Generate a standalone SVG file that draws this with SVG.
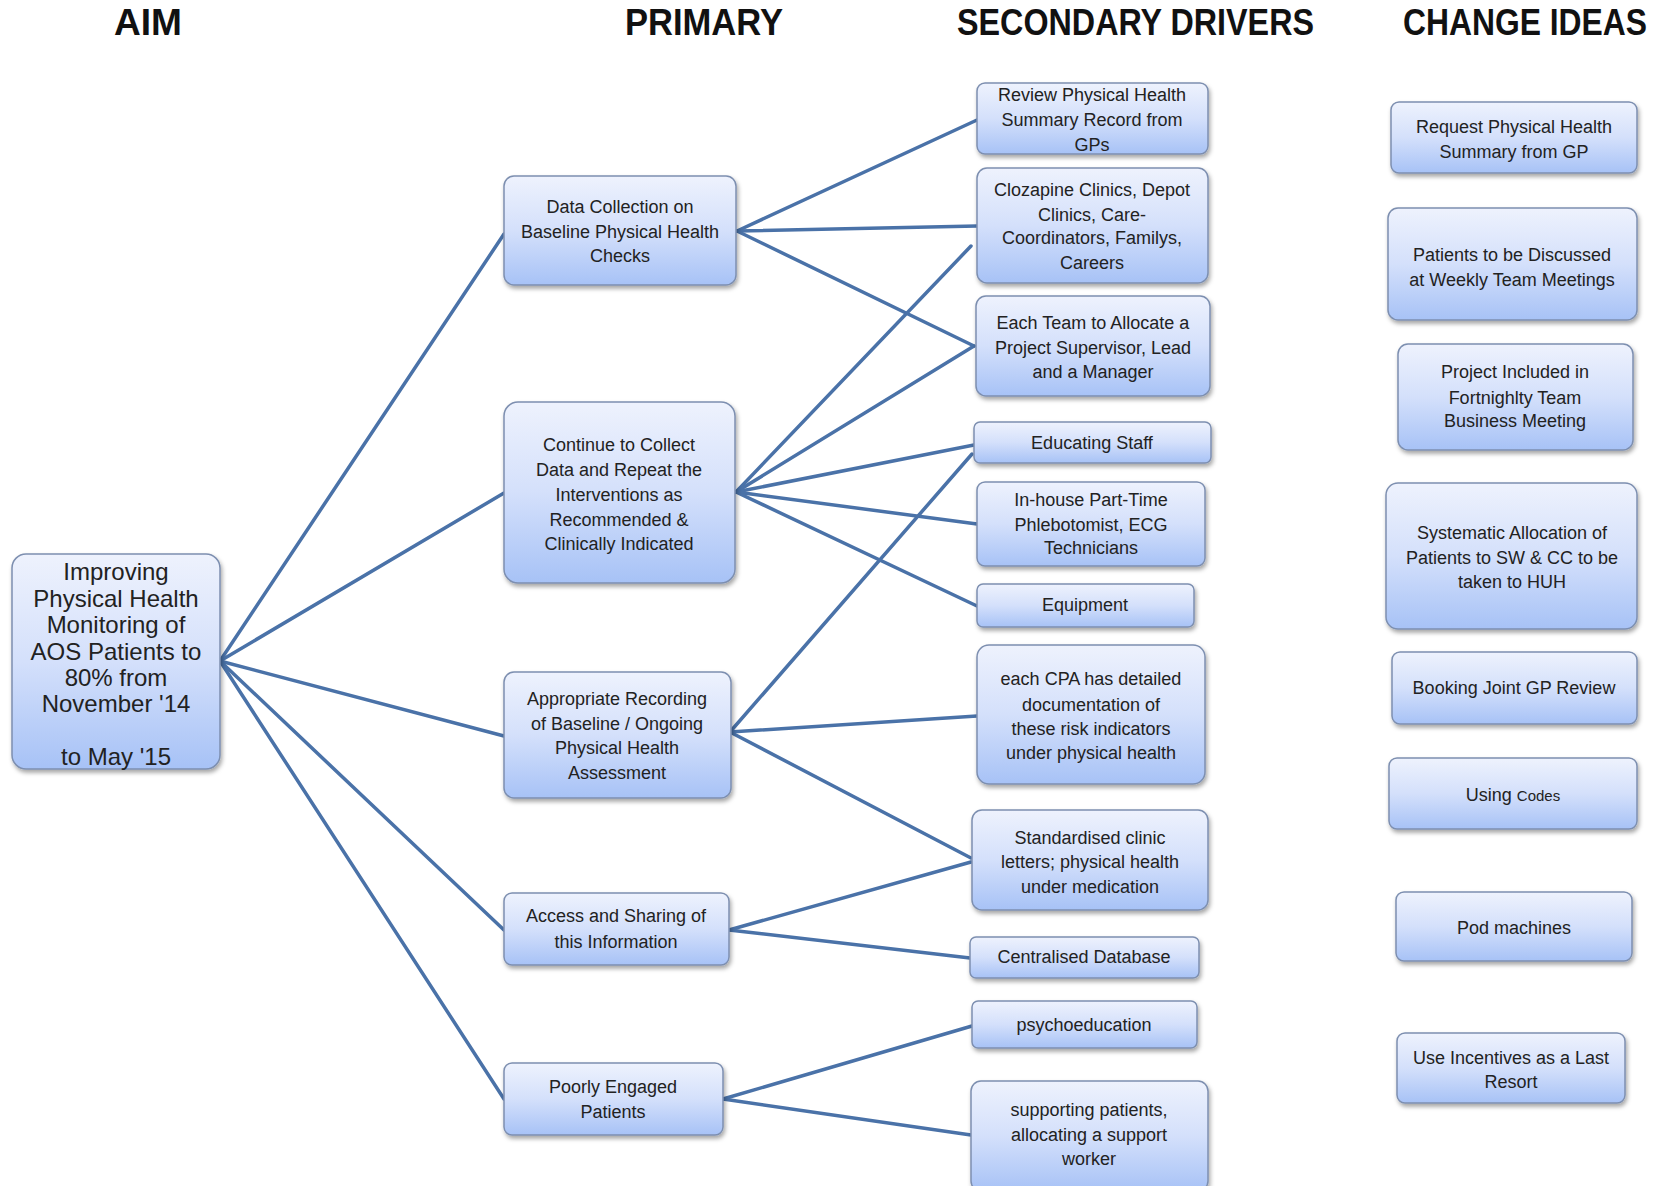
<svg xmlns="http://www.w3.org/2000/svg" width="1667" height="1186" viewBox="0 0 1667 1186">
<style>
.h{font-family:"Liberation Sans",Arial,sans-serif;font-weight:bold;font-size:36px;fill:#111}
.t{font-family:"Liberation Sans",Arial,sans-serif;font-size:18px;fill:#222;text-anchor:middle}
.a{font-family:"Liberation Sans",Arial,sans-serif;font-size:24px;fill:#222;text-anchor:middle}
.b{fill:url(#g);stroke:#7d8fb0;stroke-width:1.5;filter:url(#sh)}
.c{stroke:#4a72a8;stroke-width:3.5;fill:none;stroke-linecap:round}
</style>
<defs>
<linearGradient id="g" x1="0" y1="0" x2="0" y2="1">
<stop offset="0" stop-color="#eef2fd"/>
<stop offset="0.5" stop-color="#d4e0fb"/>
<stop offset="1" stop-color="#a7c2f6"/>
</linearGradient>
<filter id="sh" x="-10%" y="-10%" width="125%" height="130%">
<feDropShadow dx="1.5" dy="3" stdDeviation="2" flood-color="#000" flood-opacity="0.35"/>
</filter>
</defs>
<rect width="1667" height="1186" fill="#fff"/>
<g id="headers">
<text class="h" x="114" y="35" textLength="68" lengthAdjust="spacingAndGlyphs">AIM</text>
<text class="h" x="625" y="35" textLength="158" lengthAdjust="spacingAndGlyphs">PRIMARY</text>
<text class="h" x="957" y="35" textLength="357" lengthAdjust="spacingAndGlyphs">SECONDARY DRIVERS</text>
<text class="h" x="1403" y="35" textLength="244" lengthAdjust="spacingAndGlyphs">CHANGE IDEAS</text>
</g>
<g id="connectors">
<line class="c" x1="220" y1="661" x2="504" y2="234"/>
<line class="c" x1="220" y1="661" x2="504" y2="493"/>
<line class="c" x1="220" y1="661" x2="504" y2="736"/>
<line class="c" x1="220" y1="661" x2="504" y2="930"/>
<line class="c" x1="220" y1="661" x2="504" y2="1099"/>
<line class="c" x1="737" y1="231" x2="977" y2="120"/>
<line class="c" x1="737" y1="231" x2="977" y2="226"/>
<line class="c" x1="737" y1="231" x2="974" y2="346"/>
<line class="c" x1="736" y1="492" x2="971" y2="246"/>
<line class="c" x1="736" y1="492" x2="974" y2="346"/>
<line class="c" x1="736" y1="492" x2="974" y2="445"/>
<line class="c" x1="736" y1="492" x2="977" y2="524"/>
<line class="c" x1="736" y1="492" x2="977" y2="606"/>
<line class="c" x1="730" y1="732" x2="972" y2="454"/>
<line class="c" x1="730" y1="732" x2="977" y2="716"/>
<line class="c" x1="730" y1="732" x2="971" y2="858"/>
<line class="c" x1="729" y1="930" x2="971" y2="862"/>
<line class="c" x1="729" y1="930" x2="970" y2="958"/>
<line class="c" x1="723" y1="1099" x2="972" y2="1026"/>
<line class="c" x1="723" y1="1099" x2="971" y2="1135"/>
</g>
<g id="aim">
<rect class="b" x="12" y="554" width="208" height="215" rx="14"/>
<text class="a" x="116" y="580">Improving</text>
<text class="a" x="116" y="607">Physical Health</text>
<text class="a" x="116" y="633">Monitoring of</text>
<text class="a" x="116" y="660">AOS Patients to</text>
<text class="a" x="116" y="686">80% from</text>
<text class="a" x="116" y="712">November '14</text>
<text class="a" x="116" y="765">to May '15</text>
</g>
<g id="p1">
<rect class="b" x="504" y="176" width="232" height="109" rx="10"/>
<text class="t" x="620" y="213">Data Collection  on</text>
<text class="t" x="620" y="238">Baseline Physical  Health</text>
<text class="t" x="620" y="262">Checks</text>
</g>
<g id="p2">
<rect class="b" x="504" y="402" width="231" height="181" rx="14"/>
<text class="t" x="619" y="451">Continue to  Collect</text>
<text class="t" x="619" y="476">Data and  Repeat the</text>
<text class="t" x="619" y="501">Interventions as</text>
<text class="t" x="619" y="526">Recommended &amp;</text>
<text class="t" x="619" y="550">Clinically Indicated</text>
</g>
<g id="p3">
<rect class="b" x="504" y="672" width="227" height="126" rx="10"/>
<text class="t" x="617" y="705">Appropriate Recording</text>
<text class="t" x="617" y="730">of Baseline / Ongoing</text>
<text class="t" x="617" y="754">Physical Health</text>
<text class="t" x="617" y="779">Assessment</text>
</g>
<g id="p4">
<rect class="b" x="504" y="893" width="225" height="72" rx="8"/>
<text class="t" x="616" y="922">Access and Sharing of</text>
<text class="t" x="616" y="948">this Information</text>
</g>
<g id="p5">
<rect class="b" x="504" y="1063" width="219" height="72" rx="8"/>
<text class="t" x="613" y="1093">Poorly Engaged</text>
<text class="t" x="613" y="1118">Patients</text>
</g>
<g id="s1">
<rect class="b" x="977" y="83" width="231" height="71" rx="8"/>
<text class="t" x="1092" y="101">Review Physical Health</text>
<text class="t" x="1092" y="126">Summary  Record from</text>
<text class="t" x="1092" y="151">GPs</text>
</g>
<g id="s2">
<rect class="b" x="977" y="168" width="231" height="115" rx="10"/>
<text class="t" x="1092" y="196">Clozapine Clinics, Depot</text>
<text class="t" x="1092" y="221">Clinics, Care-</text>
<text class="t" x="1092" y="244">Coordinators, Familys,</text>
<text class="t" x="1092" y="269">Careers</text>
</g>
<g id="s3">
<rect class="b" x="976" y="296" width="234" height="100" rx="10"/>
<text class="t" x="1093" y="329">Each Team to Allocate a</text>
<text class="t" x="1093" y="354">Project Supervisor, Lead</text>
<text class="t" x="1093" y="378">and a Manager</text>
</g>
<g id="s4">
<rect class="b" x="974" y="422" width="237" height="41" rx="6"/>
<text class="t" x="1092" y="449">Educating Staff</text>
</g>
<g id="s5">
<rect class="b" x="977" y="482" width="228" height="84" rx="8"/>
<text class="t" x="1091" y="506">In-house Part-Time</text>
<text class="t" x="1091" y="531">Phlebotomist, ECG</text>
<text class="t" x="1091" y="554">Technicians</text>
</g>
<g id="s6">
<rect class="b" x="977" y="584" width="217" height="43" rx="6"/>
<text class="t" x="1085" y="611">Equipment</text>
</g>
<g id="s7">
<rect class="b" x="977" y="645" width="228" height="139" rx="12"/>
<text class="t" x="1091" y="685">each CPA has detailed</text>
<text class="t" x="1091" y="711">documentation of</text>
<text class="t" x="1091" y="735">these risk indicators</text>
<text class="t" x="1091" y="759">under physical health</text>
</g>
<g id="s8">
<rect class="b" x="972" y="810" width="236" height="100" rx="10"/>
<text class="t" x="1090" y="844">Standardised clinic</text>
<text class="t" x="1090" y="868">letters; physical health</text>
<text class="t" x="1090" y="893">under medication</text>
</g>
<g id="s9">
<rect class="b" x="970" y="937" width="229" height="41" rx="6"/>
<text class="t" x="1084" y="963">Centralised Database</text>
</g>
<g id="s10">
<rect class="b" x="972" y="1001" width="225" height="47" rx="6"/>
<text class="t" x="1084" y="1031">psychoeducation</text>
</g>
<g id="s11">
<rect class="b" x="971" y="1081" width="237" height="110" rx="10"/>
<text class="t" x="1089" y="1116">supporting patients,</text>
<text class="t" x="1089" y="1141">allocating a support</text>
<text class="t" x="1089" y="1165">worker</text>
</g>
<g id="c1">
<rect class="b" x="1391" y="102" width="246" height="71" rx="8"/>
<text class="t" x="1514" y="133">Request Physical  Health</text>
<text class="t" x="1514" y="158">Summary  from GP</text>
</g>
<g id="c2">
<rect class="b" x="1388" y="208" width="249" height="112" rx="10"/>
<text class="t" x="1512" y="261">Patients to  be Discussed</text>
<text class="t" x="1512" y="286">at Weekly Team  Meetings</text>
</g>
<g id="c3">
<rect class="b" x="1398" y="344" width="235" height="106" rx="10"/>
<text class="t" x="1515" y="378">Project Included in</text>
<text class="t" x="1515" y="404">Fortnighlty Team</text>
<text class="t" x="1515" y="427">Business Meeting</text>
</g>
<g id="c4">
<rect class="b" x="1386" y="483" width="251" height="146" rx="12"/>
<text class="t" x="1512" y="539">Systematic  Allocation of</text>
<text class="t" x="1512" y="564">Patients to  SW &amp; CC to be</text>
<text class="t" x="1512" y="588">taken to HUH</text>
</g>
<g id="c5">
<rect class="b" x="1392" y="652" width="245" height="72" rx="8"/>
<text class="t" x="1514" y="694">Booking Joint  GP Review</text>
</g>
<g id="c6">
<rect class="b" x="1389" y="758" width="248" height="71" rx="8"/>
<text class="t" x="1513" y="801">Using <tspan font-size="15">Codes</tspan></text>
</g>
<g id="c7">
<rect class="b" x="1396" y="892" width="236" height="69" rx="8"/>
<text class="t" x="1514" y="934">Pod machines</text>
</g>
<g id="c8">
<rect class="b" x="1397" y="1033" width="228" height="70" rx="8"/>
<text class="t" x="1511" y="1064">Use Incentives as a Last</text>
<text class="t" x="1511" y="1088">Resort</text>
</g>
</svg>
